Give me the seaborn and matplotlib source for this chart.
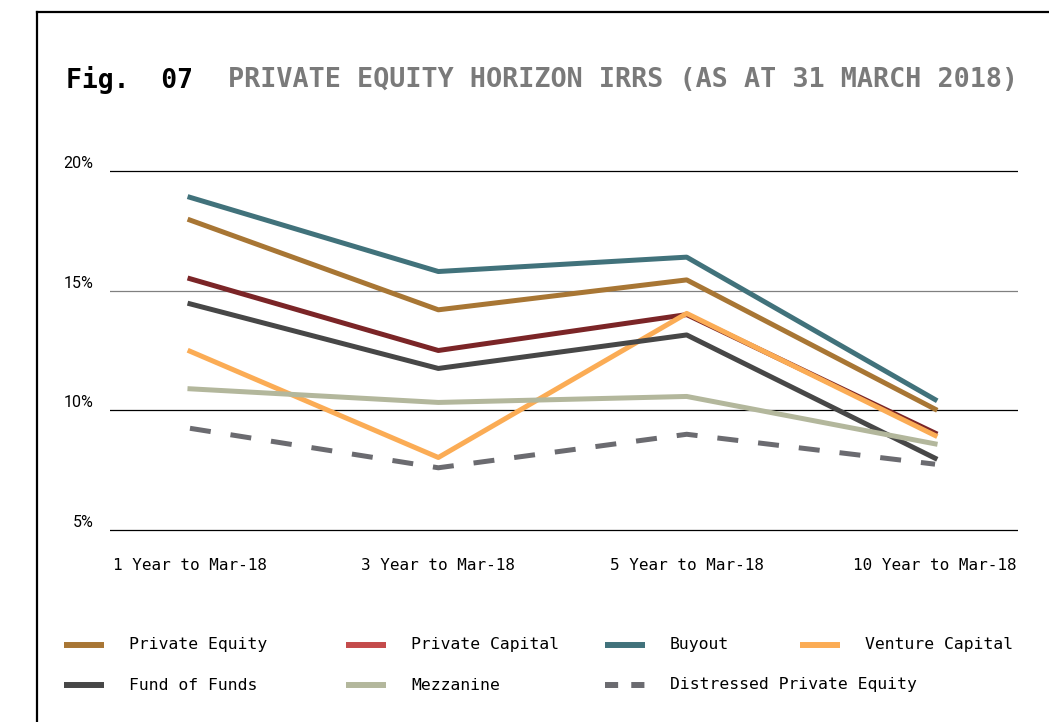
import numpy as np
import pandas as pd
import seaborn as sns
import matplotlib.pyplot as plt
from matplotlib.lines import Line2D

# Data (IRR in %)
horizons = ["1 Year to Mar-18", "3 Year to Mar-18", "5 Year to Mar-18", "10 Year to Mar-18"]
series_names = ["Private Equity", "Private Capital", "Buyout", "Venture Capital",
                "Fund of Funds", "Mezzanine", "Distressed Private Equity"]
private_equity = [17.95, 14.2, 15.45, 10.05]
private_capital = [15.5, 12.5, 14.0, 9.05]
buyout = [18.9, 15.8, 16.4, 10.45]
venture_capital = [12.47, 8.03, 14.05, 8.95]
fund_of_funds = [14.45, 11.75, 13.15, 8.0]
mezzanine = [10.9, 10.33, 10.58, 8.6]
distressed = [9.25, 7.6, 9.0, 7.75]
y_ticks = [5, 10, 15, 20]

values = [private_equity, private_capital, buyout, venture_capital,
          fund_of_funds, mezzanine, distressed]

line_colors = {
    "Private Equity": "#a87634",
    "Private Capital": "#7b2527",
    "Buyout": "#41727b",
    "Venture Capital": "#fbac55",
    "Fund of Funds": "#474747",
    "Mezzanine": "#b3b79c",
    "Distressed Private Equity": "#6b6b70",
}
# the legend swatch for Private Capital is a lighter red than the line
legend_colors = dict(line_colors, **{"Private Capital": "#c44b4b"})

# Build a long-form table for seaborn
rows = []
for name, vals in zip(series_names, values):
    for h, v in zip(horizons, vals):
        rows.append({"horizon": h, "irr": v, "series": name})
df = pd.DataFrame(rows)

W, H = 1049, 722


def px(x, y):
    # pixel position -> figure fraction
    return x / W, 1 - y / H


fig = plt.figure(figsize=(W / 100, H / 100), dpi=100)
ax = fig.add_axes([110 / W, 1 - 534.8 / H, 908 / W, 368.6 / H])

dashes = {n: "" for n in series_names}
dashes["Distressed Private Equity"] = (4.2, 4.0)

sns.lineplot(data=df, x="horizon", y="irr", hue="series", style="series",
             hue_order=series_names, style_order=series_names,
             palette=line_colors, dashes=dashes, linewidth=3.6,
             sort=False, legend=False, ax=ax)

ax.set_ylim(4.8, 20.2)
ax.set_xlim(-0.322, 3.334)
ax.set_yticks(y_ticks)
ax.set_yticklabels([f"{t}%" for t in y_ticks], fontfamily="Roboto", fontsize=11.5)
for lab in ax.get_yticklabels():
    lab.set_verticalalignment("bottom")
ax.set_xticks(range(len(horizons)))
ax.set_xticklabels(horizons, fontfamily="DejaVu Sans Mono", fontsize=11.5)
ax.tick_params(axis="x", length=0, pad=17)
ax.tick_params(axis="y", length=0, pad=12)
ax.set_xlabel("")
ax.set_ylabel("")
for s in ax.spines.values():
    s.set_visible(False)

# horizontal rules, 15% one is grey
for t in y_ticks:
    ax.axhline(t, color="#808080" if t == 15 else "black", lw=0.9, zorder=0)

# Title
fig.text(*px(66, 80), "Fig.  07", fontfamily="DejaVu Sans Mono", fontweight="bold",
         fontsize=19, color="black", va="center", ha="left")
fig.text(*px(1018, 80), "PRIVATE EQUITY HORIZON IRRS (AS AT 31 MARCH 2018)",
         fontfamily="DejaVu Sans Mono", fontweight="bold", fontsize=19.3,
         color="#7a7a7a", va="center", ha="right")

# Legend, placed by hand to follow the reference layout
legend_pos = {
    "Private Equity": (64, 645), "Private Capital": (346, 645),
    "Buyout": (605, 645), "Venture Capital": (800, 645),
    "Fund of Funds": (64, 685), "Mezzanine": (346, 685),
    "Distressed Private Equity": (605, 685),
}
for name in series_names:
    x0, y0 = legend_pos[name]
    xa, ya = px(x0, y0)
    xb, _ = px(x0 + 40, y0)
    ls = (0, (2.2, 2.2)) if name.startswith("Distressed") else "-"
    fig.add_artist(Line2D([xa, xb], [ya, ya], color=legend_colors[name],
                          lw=4.3, linestyle=ls, solid_capstyle="butt",
                          dash_capstyle="butt", transform=fig.transFigure))
    fig.text(*px(x0 + 65, y0), name, fontfamily="DejaVu Sans Mono",
             fontsize=11.8, va="center", ha="left")

# frame (only left and top edges are visible in the crop)
fig.add_artist(Line2D([37 / W, 37 / W], [0, 1 - 12 / H], color="black", lw=1.6,
                      transform=fig.transFigure))
fig.add_artist(Line2D([37 / W, 1], [1 - 12 / H, 1 - 12 / H], color="black", lw=1.6,
                      transform=fig.transFigure))

fig.savefig("out.png", dpi=100, facecolor="white")
